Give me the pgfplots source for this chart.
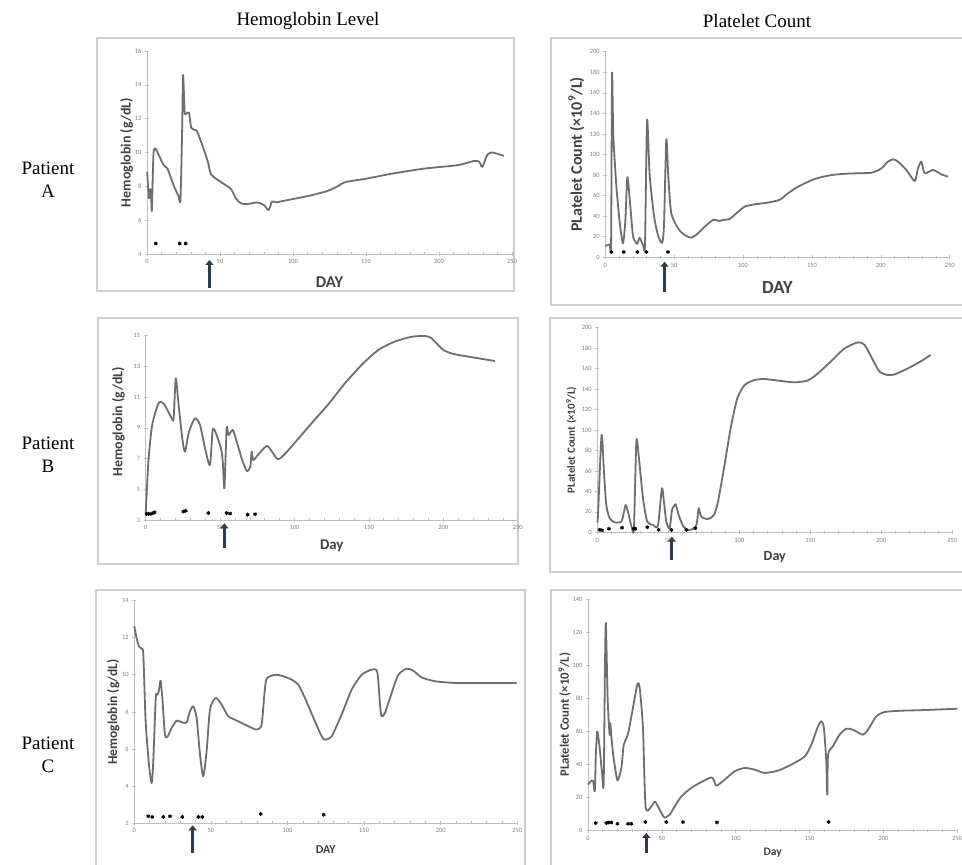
\documentclass[border=0pt]{standalone}
\usepackage{pgfplots}
\pgfplotsset{compat=1.18}
\usetikzlibrary{arrows.meta}
\usepackage{fontspec}
\setmainfont{Carlito}
\newfontfamily\ttlfont{Liberation Serif}
\definecolor{curvegray}{HTML}{6E6E6E}
\definecolor{axgray}{HTML}{BFBFBF}
\definecolor{tickgray}{HTML}{7F7F7F}
\definecolor{labgray}{HTML}{404040}
\definecolor{boxgray}{HTML}{CFCFCF}
\definecolor{arrowcol}{HTML}{2E3B4E}
\tikzset{arr/.style={draw=arrowcol, line width=3pt, -{Triangle[length=5pt,width=8pt]}}}
\pgfplotsset{
  panel/.style={
    scale only axis, clip=false,
    axis lines=left, axis line style={draw=axgray, line width=0.7pt, -},
    xmin=0, xmax=250, xtick={0,50,...,250}, minor x tick num=4,
    tick style={draw=axgray, line width=0.6pt},
    major tick length=4pt, minor tick length=3pt, tick align=center,
    ticklabel style={font=\fontsize{6.5}{7}\selectfont, text=tickgray},
    /pgf/number format/assume math mode=true,
    enlargelimits=false,
  },
  curve/.style={draw=curvegray, line width=1.8pt, smooth, tension=0.4, mark=none, line join=round},
  stars/.style={only marks, mark=asterisk, mark size=1.9pt, mark options={draw=black, line width=1pt}},
}
\begin{document}
\begin{tikzpicture}
\useasboundingbox (0,0) rectangle (962pt,865pt);
\fill[white] (0,0) rectangle (962pt,865pt);
% boxes
\draw[boxgray, line width=1.1pt] (97pt,574pt) rectangle (514pt,827pt);
\draw[boxgray, line width=1.1pt] (551pt,560pt) rectangle (975pt,827pt);
\draw[boxgray, line width=1.1pt] (98pt,301pt) rectangle (518pt,547pt);
\draw[boxgray, line width=1.1pt] (550pt,293pt) rectangle (975pt,547pt);
\draw[boxgray, line width=1.1pt] (96pt,-5pt) rectangle (525pt,275pt);
\draw[boxgray, line width=1.1pt] (551pt,-5pt) rectangle (975pt,275pt);
% titles
\node[font=\ttlfont\fontsize{19}{21}\selectfont] at (308pt,844pt) {Hemoglobin Level};
\node[font=\ttlfont\fontsize{19}{21}\selectfont] at (757pt,844pt) {Platelet Count};
\node[font=\ttlfont\fontsize{19}{23}\selectfont, align=center] at (48pt,685.5pt) {Patient\\A};
\node[font=\ttlfont\fontsize{19}{23}\selectfont, align=center] at (48pt,410.5pt) {Patient\\B};
\node[font=\ttlfont\fontsize{19}{23}\selectfont, align=center] at (48pt,110pt) {Patient\\C};

% ---------- Patient A, hemoglobin
\begin{axis}[panel, at={(147pt,611pt)}, anchor=south west, width=365pt, height=203pt,
  ymin=4, ymax=16, ytick={4,6,...,16},
  xlabel={DAY}, ylabel={Hemoglobin (g/dL)},
  xlabel style={font=\bfseries\fontsize{16.5}{17}\selectfont, text=labgray, at={([yshift=-27.7pt]axis description cs:0.5,0)}, anchor=center},
  ylabel style={font=\bfseries\fontsize{14}{15}\selectfont, text=labgray, at={([xshift=-20.3pt]axis description cs:0,0.5)}, anchor=center}]
\addplot[curve] coordinates {(0.1,8.87)(1.3,7.3)(2.2,7.83)(2.8,7.7)(3.3,6.56)(4.4,9.85)(5.6,10.25)(8,9.85)(11.5,9.25)(14,9.05)(18.5,8.0)(21.5,7.45)(22.9,7.19)(24,11)(24.7,14.58)(25.8,12.4)(27,12.3)(28.8,12.35)(30.4,11.43)(33.9,11.3)(37.2,10.6)(41.7,9.45)(43.9,8.7)(50.7,8.25)(57.4,7.85)(60.8,7.3)(64.2,7.0)(68.7,6.95)(75.5,7.05)(80,6.9)(83.3,6.6)(85.6,7.1)(88.5,7.05)(91.2,7.1)(100,7.25)(111.5,7.45)(122.7,7.7)(129.5,7.95)(136,8.25)(150,8.45)(167.8,8.75)(190,9.05)(212.8,9.25)(224,9.5)(227.5,9.45)(229.7,9.15)(233,9.85)(236.5,10.0)(244.4,9.8)};
\addplot[stars] coordinates {(6,4.62)(22.4,4.62)(26.5,4.62)};
\draw[arr] ([yshift=-34pt]axis cs:42.8,4) -- ([yshift=-6pt]axis cs:42.8,4);
\end{axis}

% ---------- Patient A, platelets
\begin{axis}[panel, at={(605.3pt,607.7pt)}, anchor=south west, width=344.4pt, height=205.6pt,
  ymin=0, ymax=200, ytick={0,20,...,200},
  xlabel={DAY}, ylabel={PLatelet Count (×10\textsuperscript{9}/L)},
  xlabel style={font=\bfseries\fontsize{18.5}{19}\selectfont, text=labgray, at={([yshift=-30pt]axis description cs:0.5,0)}, anchor=center},
  ylabel style={font=\bfseries\fontsize{16}{17}\selectfont, text=labgray, at={([xshift=-29pt]axis description cs:0,0.5)}, anchor=center}]
\addplot[curve] coordinates {(0,11)(3.1,12.6)(4.2,14)(4.9,178.3)(5.8,119)(8,70)(10.4,34.7)(12.8,13.6)(14.5,34.7)(16,77.8)(17.7,57)(20,21.7)(21.8,15.2)(23.2,13)(24.9,19)(27.4,12)(28.8,12.5)(30.3,133.6)(32.2,80)(35.3,41)(38.2,21.7)(41.2,14)(42.6,31.4)(44.3,114.8)(45.8,76.8)(47.9,42.8)(52.8,28.2)(57.6,21.7)(62.4,19.1)(67.3,23.3)(72.2,29.8)(78.2,36.3)(83,35.3)(85.4,36.3)(90.3,37.3)(95.1,42.8)(101.2,49.3)(108.4,51.5)(118,53.2)(126.6,56)(132.6,62.2)(139.9,68.7)(152,76.2)(164.1,80)(176.2,81.4)(193.1,82.3)(200.4,86.5)(205.2,93)(208.9,95.3)(212.5,93)(218.5,85)(224.6,74.2)(227,86.5)(229.4,93)(231.8,81.7)(237.9,85)(243.9,80.7)(248.8,78.4)};
\addplot[stars] coordinates {(4.4,5.2)(13.4,5.2)(23.2,5.2)(29.8,5.2)(45.5,5.2)};
\draw[arr] ([yshift=-34.4pt]axis cs:43,0) -- ([yshift=-4.4pt]axis cs:43,0);
\end{axis}

% ---------- Patient B, hemoglobin
\begin{axis}[panel, at={(145.7pt,345pt)}, anchor=south west, width=372pt, height=184.3pt,
  ymin=3, ymax=15, ytick={3,5,...,15},
  xlabel={Day}, ylabel={Hemoglobin (g/dL)},
  xlabel style={font=\bfseries\fontsize{14.8}{15}\selectfont, text=labgray, at={([yshift=-25.7pt]axis description cs:0.5,0)}, anchor=center},
  ylabel style={font=\bfseries\fontsize{14}{15}\selectfont, text=labgray, at={([xshift=-27.4pt,yshift=6pt]axis description cs:0,0.5)}, anchor=center}]
\addplot[curve] coordinates {(0,3.4)(1.8,6.8)(4,8.97)(6.3,9.95)(9,10.66)(11.9,10.6)(15.2,10.05)(17.9,9.55)(18.8,9.62)(20.2,12.22)(21.9,10.7)(24.6,8.3)(26.4,7.45)(29.1,8.75)(33.1,9.62)(36.5,9.18)(39.9,7.66)(43.2,6.58)(45,8.86)(47,8.7)(50.6,7.66)(51.8,6.8)(52.9,5.06)(54.4,8.97)(55.6,8.53)(58.5,8.86)(61.2,8.1)(64.5,7.01)(67.9,6.19)(70.3,6.47)(71.2,7.45)(72.3,6.9)(75.7,7.27)(81.3,7.82)(84.6,7.49)(88,7.01)(90.3,7.01)(95.9,7.55)(111.5,9.3)(122.7,10.53)(133.9,11.9)(145.1,13.1)(156.3,14.07)(167.5,14.62)(178.7,14.93)(187.7,14.98)(192.2,14.83)(200,14.07)(207.8,13.79)(223.5,13.53)(234.7,13.35)};
\addplot[stars] coordinates {(0.7,3.4)(2,3.4)(3.5,3.4)(5,3.45)(6,3.5)(25.3,3.55)(26.9,3.6)(42.1,3.45)(54.4,3.45)(56.7,3.42)(68.5,3.35)(73.5,3.38)};
\draw[arr] ([yshift=-28.3pt]axis cs:52.9,3) -- ([yshift=-3.3pt]axis cs:52.9,3);
\end{axis}

% ---------- Patient B, platelets
\begin{axis}[panel, at={(597.3pt,332.7pt)}, anchor=south west, width=355pt, height=204.6pt,
  ymin=0, ymax=200, ytick={0,20,...,200},
  xlabel={Day}, ylabel={PLatelet Count (×10\textsuperscript{9}/L)},
  xlabel style={font=\bfseries\fontsize{14}{15}\selectfont, text=labgray, at={([yshift=-24.4pt]axis description cs:0.5,0)}, anchor=center},
  ylabel style={font=\bfseries\fontsize{11}{12}\selectfont, text=labgray, at={([xshift=-26pt,yshift=-10pt]axis description cs:0,0.5)}, anchor=center}]
\addplot[curve] coordinates {(0,10)(0.5,17)(3.0,95)(4.7,59)(6.3,26.7)(8.7,13.7)(12.2,9.8)(16.9,10.4)(18.8,20)(20,26.7)(21.6,20)(24.4,3.9)(25.8,3.9)(27.5,89)(29.1,75.5)(32.2,33)(35.2,10.4)(39.2,7.2)(42.7,6.5)(45.5,43)(46.9,30)(48.6,10.4)(50.9,3.9)(52.6,21.8)(53.8,25)(55.2,27.4)(57.3,17)(60.3,6.5)(63.4,2.3)(68.5,3.9)(70.2,9.8)(71.4,23.5)(73.2,15.3)(77.9,13)(82.2,17)(85,30)(89.2,62.5)(93.9,101.6)(98.6,131)(103.8,144)(110.8,148.9)(117.8,149.8)(129.6,147.9)(139,146.6)(148.4,148.5)(155.4,155.4)(164.8,167.4)(174.2,179.8)(183.6,185.7)(188.3,183)(194.1,168.4)(198.8,157)(204.7,153.7)(209.4,154.4)(218.8,160.3)(228.2,167.4)(234.7,173.3)};
\addplot[stars] coordinates {(1.6,2.5)(3.3,2)(8.2,3.5)(17.4,4.5)(25.8,3.5)(26.8,3.5)(35.2,5)(43.2,2.5)(52.1,2.3)(62.7,2.3)(69,4)};
\draw[arr] ([yshift=-27.7pt]axis cs:52.6,0) -- ([yshift=-4.4pt]axis cs:52.6,0);
\end{axis}

% ---------- Patient C, hemoglobin
\begin{axis}[panel, at={(134.3pt,42pt)}, anchor=south west, width=383pt, height=222.3pt,
  ymin=2, ymax=14, ytick={2,4,...,14},
  xlabel={DAY}, ylabel={Hemoglobin (g/dL)},
  xlabel style={font=\bfseries\fontsize{12}{13}\selectfont, text=labgray, at={([yshift=-26.7pt]axis description cs:0.5,0)}, anchor=center},
  ylabel style={font=\bfseries\fontsize{13.5}{14}\selectfont, text=labgray, at={([xshift=-21pt]axis description cs:0,0.5)}, anchor=center}]
\addplot[curve] coordinates {(0,12.62)(1.5,11.99)(3,11.54)(4.8,11.4)(5.9,11.09)(7.4,7.49)(9.6,5.15)(11.3,4.16)(12.4,5.33)(14,8.75)(15,8.93)(15.7,9.02)(16.8,9.56)(17.2,9.68)(18.3,8.75)(20,6.77)(21.8,6.68)(24.4,7.13)(27.6,7.52)(31.3,7.43)(34.2,7.43)(36.3,8.03)(38.5,8.3)(40.7,7.67)(42.9,5.69)(45,4.52)(47.2,5.87)(49.4,8.12)(53.1,8.75)(57,8.39)(61.4,7.76)(67.9,7.49)(74.5,7.22)(79.9,7.04)(83.1,7.31)(84.9,8.93)(86.4,9.79)(91.8,10.0)(96.2,9.95)(102.7,9.74)(107,9.47)(111.4,8.75)(117.9,7.49)(122.3,6.68)(124.4,6.5)(128.8,6.68)(135.3,7.85)(141.9,9.2)(148.4,10.0)(155,10.28)(158.6,10.15)(160.4,8.39)(161.4,7.76)(163.6,7.94)(168,9.02)(172.3,10.0)(177.8,10.33)(182.1,10.22)(187.6,9.86)(196.3,9.65)(209.3,9.56)(224.5,9.56)(249.6,9.56)};
\addplot[stars] coordinates {(9.1,2.36)(11.7,2.33)(18.9,2.33)(23.3,2.36)(31.3,2.33)(41.8,2.33)(44.4,2.33)(82.5,2.49)(123.6,2.45)};
\draw[arr] ([yshift=-30pt]axis cs:38.1,2) -- ([yshift=-2.3pt]axis cs:38.1,2);
\end{axis}

% ---------- Patient C, platelets
\begin{axis}[panel, at={(588pt,34.3pt)}, anchor=south west, width=369.3pt, height=231.7pt,
  ymin=0, ymax=140, ytick={0,20,...,140},
  xlabel={Day}, ylabel={PLatelet Count (×10\textsuperscript{9}/L)},
  xlabel style={font=\bfseries\fontsize{11.5}{12}\selectfont, text=labgray, at={([yshift=-22.3pt]axis description cs:0.5,0)}, anchor=center},
  ylabel style={font=\bfseries\fontsize{12.8}{13}\selectfont, text=labgray, at={([xshift=-23.3pt]axis description cs:0,0.5)}, anchor=center}]
\addplot[curve] coordinates {(0,27.8)(1.8,29.8)(3.4,30.2)(4.6,23.8)(5.3,45.9)(6.3,60)(7.9,50)(9.5,34.9)(10.6,28)(11.5,100)(12.1,125.5)(13.3,80)(14.6,58)(15.1,65)(15.8,57)(16.9,47)(18,39.9)(20,30.4)(22.6,37.9)(24.2,52)(26.9,57.8)(29.8,71.1)(33.4,88.4)(35,86.2)(37.2,62)(39,14.3)(42.9,14.7)(45.4,17.6)(48.5,12.7)(51.7,8)(55.3,9.7)(58.7,14.7)(63.2,20.7)(69.9,25.8)(76.7,29.4)(83.5,32.2)(85.1,30.8)(86.9,27.2)(92.5,30.8)(99.3,35.9)(106.1,37.9)(112.8,36.9)(119.6,34.9)(128.6,36.3)(137.6,39.9)(146.7,44.9)(151.2,52)(155.7,63.1)(158,66.1)(159.7,62)(161.3,41.9)(162,21.8)(162.5,45.9)(165.8,51)(170.3,58)(174.9,61.6)(179.4,61)(186.1,58)(189.5,61)(195.2,69.1)(200.8,71.7)(212.1,72.5)(227.9,72.9)(250,73.7)};
\addplot[stars] coordinates {(5.2,4.6)(12.4,4.6)(14,5)(15.8,5)(19.9,4.2)(27.1,4.2)(29.3,4.2)(38.8,5.2)(53,5.2)(64.3,5.2)(87.3,5)(162.9,5.2)};
\draw[arr] ([yshift=-22.3pt]axis cs:39.5,0) -- ([yshift=-2.3pt]axis cs:39.5,0);
\end{axis}
\end{tikzpicture}
\end{document}
